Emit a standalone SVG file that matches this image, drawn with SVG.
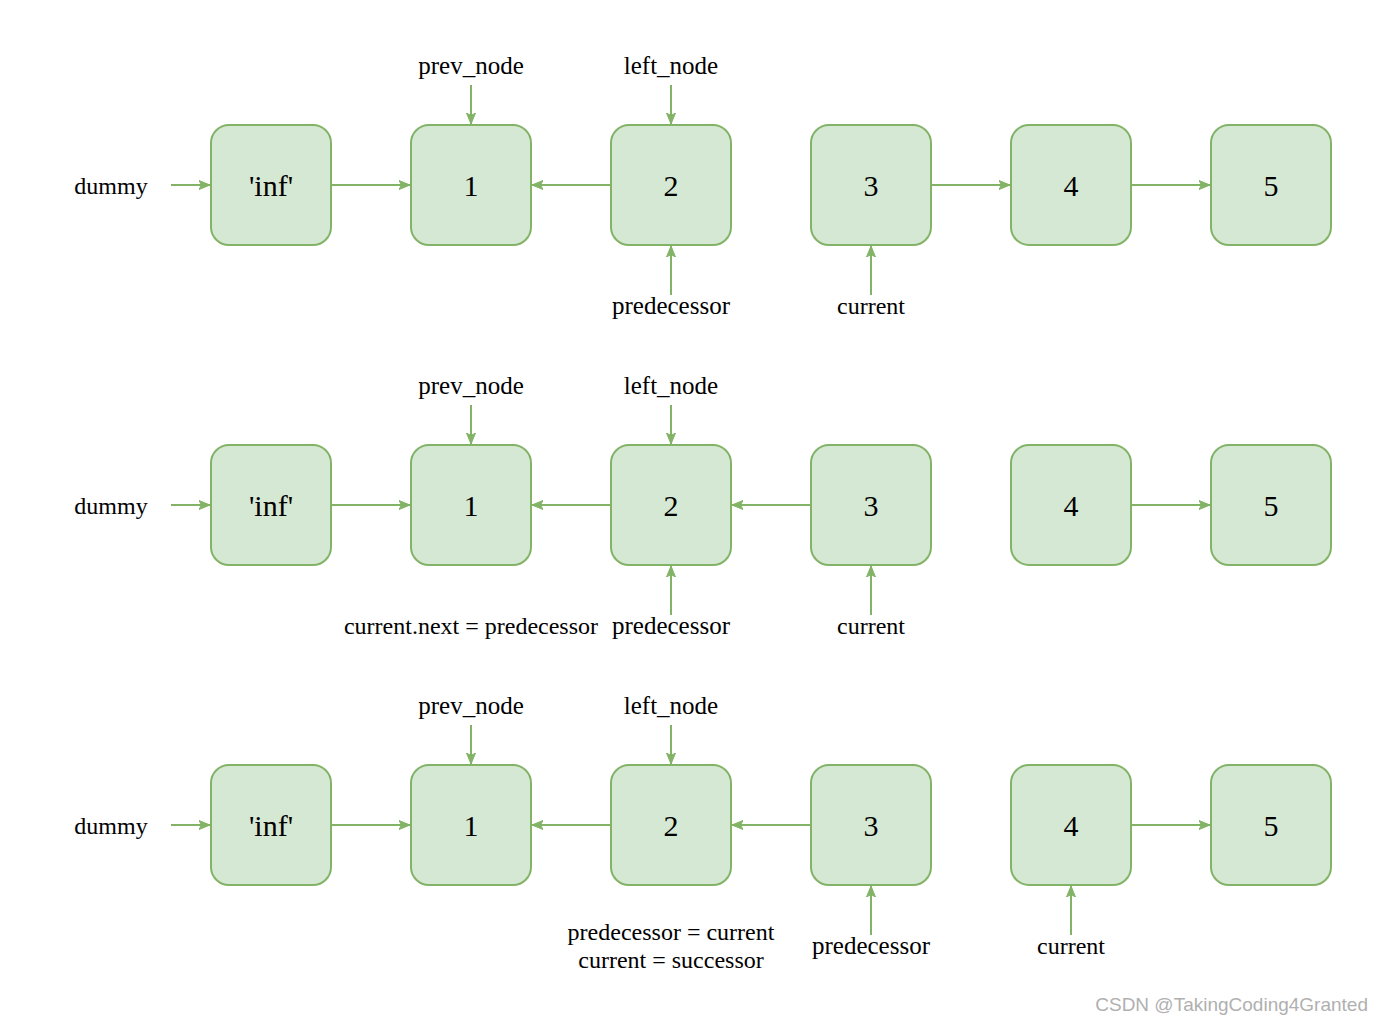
<svg xmlns="http://www.w3.org/2000/svg" width="1383" height="1024" viewBox="0 0 1383 1024">
<style>
.n rect{fill:#d5e8d4;stroke:#82b366;stroke-width:2}
.n text{font-family:'Liberation Serif','Times New Roman',Times,serif;font-size:30px;text-anchor:middle;fill:#000}
.e path{stroke:#82b366;stroke-width:2;fill:none;marker-end:url(#ah)}
.l{font-family:'Liberation Serif','Times New Roman',Times,serif;font-size:24px;text-anchor:middle;fill:#000}
.b{font-size:25px}
.wm{font-family:'Liberation Sans',Arial,sans-serif;font-size:19px;text-anchor:end;fill:#b0b0b0}
</style>
<defs>
<marker id="ah" viewBox="0 0 12 10" refX="11" refY="5" markerWidth="12" markerHeight="10" markerUnits="userSpaceOnUse" orient="auto">
<path d="M0,0.5 L11,5 L0,9.5 L2.5,5 Z" fill="#82b366" stroke="#82b366" stroke-width="1"/>
</marker>
</defs>
<g id="connectors" class="e">
<path d="M171,185 H210"/><path d="M331,185 H410"/><path d="M611,185 H532"/><path d="M931,185 H1010"/><path d="M1131,185 H1210"/>
<path d="M471,85 V124"/><path d="M671,85 V124"/><path d="M671,295 V246"/><path d="M871,295 V246"/>
<path d="M171,505 H210"/><path d="M331,505 H410"/><path d="M611,505 H532"/><path d="M811,505 H732"/><path d="M1131,505 H1210"/>
<path d="M471,405 V444"/><path d="M671,405 V444"/><path d="M671,615 V566"/><path d="M871,615 V566"/>
<path d="M171,825 H210"/><path d="M331,825 H410"/><path d="M611,825 H532"/><path d="M811,825 H732"/><path d="M1131,825 H1210"/>
<path d="M471,725 V764"/><path d="M671,725 V764"/><path d="M871,935 V886"/><path d="M1071,935 V886"/>
</g>
<g id="r1n0" class="n"><rect x="211" y="125" width="120" height="120" rx="18"/><text x="271" y="196">'inf'</text></g>
<g id="r1n1" class="n"><rect x="411" y="125" width="120" height="120" rx="18"/><text x="471" y="196">1</text></g>
<g id="r1n2" class="n"><rect x="611" y="125" width="120" height="120" rx="18"/><text x="671" y="196">2</text></g>
<g id="r1n3" class="n"><rect x="811" y="125" width="120" height="120" rx="18"/><text x="871" y="196">3</text></g>
<g id="r1n4" class="n"><rect x="1011" y="125" width="120" height="120" rx="18"/><text x="1071" y="196">4</text></g>
<g id="r1n5" class="n"><rect x="1211" y="125" width="120" height="120" rx="18"/><text x="1271" y="196">5</text></g>
<g id="r2n0" class="n"><rect x="211" y="445" width="120" height="120" rx="18"/><text x="271" y="516">'inf'</text></g>
<g id="r2n1" class="n"><rect x="411" y="445" width="120" height="120" rx="18"/><text x="471" y="516">1</text></g>
<g id="r2n2" class="n"><rect x="611" y="445" width="120" height="120" rx="18"/><text x="671" y="516">2</text></g>
<g id="r2n3" class="n"><rect x="811" y="445" width="120" height="120" rx="18"/><text x="871" y="516">3</text></g>
<g id="r2n4" class="n"><rect x="1011" y="445" width="120" height="120" rx="18"/><text x="1071" y="516">4</text></g>
<g id="r2n5" class="n"><rect x="1211" y="445" width="120" height="120" rx="18"/><text x="1271" y="516">5</text></g>
<g id="r3n0" class="n"><rect x="211" y="765" width="120" height="120" rx="18"/><text x="271" y="836">'inf'</text></g>
<g id="r3n1" class="n"><rect x="411" y="765" width="120" height="120" rx="18"/><text x="471" y="836">1</text></g>
<g id="r3n2" class="n"><rect x="611" y="765" width="120" height="120" rx="18"/><text x="671" y="836">2</text></g>
<g id="r3n3" class="n"><rect x="811" y="765" width="120" height="120" rx="18"/><text x="871" y="836">3</text></g>
<g id="r3n4" class="n"><rect x="1011" y="765" width="120" height="120" rx="18"/><text x="1071" y="836">4</text></g>
<g id="r3n5" class="n"><rect x="1211" y="765" width="120" height="120" rx="18"/><text x="1271" y="836">5</text></g>
<g id="labels">
<text class="l" x="111" y="194">dummy</text>
<text class="l b" x="471" y="74">prev_node</text>
<text class="l b" x="671" y="74">left_node</text>
<text class="l b" x="671" y="314">predecessor</text>
<text class="l" x="871" y="314">current</text>
<text class="l" x="111" y="514">dummy</text>
<text class="l b" x="471" y="394">prev_node</text>
<text class="l b" x="671" y="394">left_node</text>
<text class="l" x="471" y="634">current.next = predecessor</text>
<text class="l b" x="671" y="634">predecessor</text>
<text class="l" x="871" y="634">current</text>
<text class="l" x="111" y="834">dummy</text>
<text class="l b" x="471" y="714">prev_node</text>
<text class="l b" x="671" y="714">left_node</text>
<text class="l" x="671" y="940">predecessor = current</text>
<text class="l" x="671" y="968">current = successor</text>
<text class="l b" x="871" y="954">predecessor</text>
<text class="l" x="1071" y="954">current</text>
<text class="wm" x="1368" y="1011">CSDN @TakingCoding4Granted</text>
</g>
</svg>
